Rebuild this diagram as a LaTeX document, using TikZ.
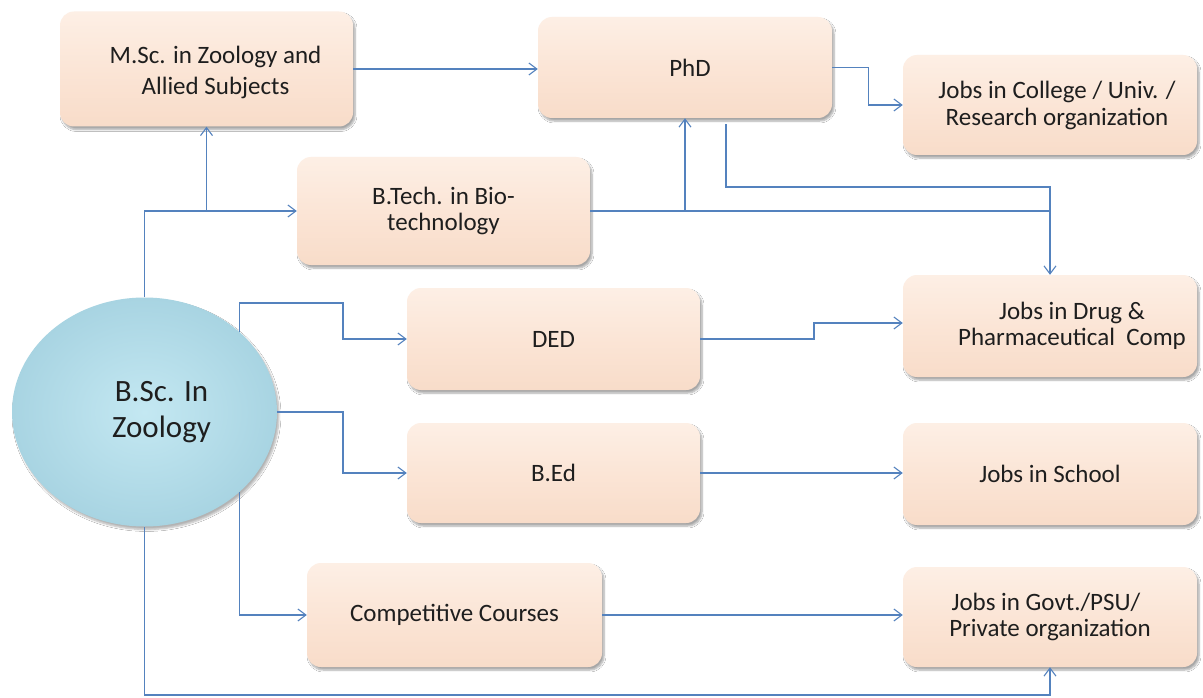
\documentclass[tikz,border=0pt]{standalone}
\usepackage{fontspec}
\setmainfont{Carlito}
\usetikzlibrary{arrows.meta,shapes.geometric,shadows.blur}
\definecolor{boxfill}{RGB}{251,229,214}
\definecolor{boxtop}{RGB}{253,239,229}
\definecolor{boxbot}{RGB}{248,220,201}
\definecolor{linecol}{RGB}{84,130,190}
\definecolor{ballin}{RGB}{196,232,242}
\definecolor{ballout}{RGB}{168,212,226}
\definecolor{txt}{RGB}{30,30,30}
\tikzset{
  boxnode/.style={rectangle, rounded corners=14pt, inner sep=0pt,
    top color=boxtop, bottom color=boxbot, middle color=boxfill,
    blur shadow={shadow xshift=2pt, shadow yshift=-3pt, shadow blur steps=6, shadow opacity=35},
    text=txt, align=center, font=\fontsize{25}{30}\selectfont},
  conn/.style={draw=linecol, line width=1.1pt},
  arr/.style={conn, -{Straight Barb[length=8pt,width=12pt,line width=1.1pt]}}
}
\begin{document}
\begin{tikzpicture}[x=1pt,y=-1pt]
\useasboundingbox[fill=white] (0,0) rectangle (1203,698);

% nodes
\node[boxnode, minimum width=293pt, minimum height=115pt,
  font=\fontsize{25}{31}\selectfont] (msc) at (206.5,69)
  {\hspace*{18pt}\rule{0pt}{24pt}M.Sc. in Zoology and\\\hspace*{18pt}Allied Subjects};
\node[boxnode, minimum width=294pt, minimum height=101pt] (phd) at (685,67.5)
  {\hspace*{10pt}PhD};
\node[boxnode, minimum width=294pt, minimum height=100pt,
  font=\fontsize{25}{27}\selectfont] (col) at (1050,105)
  {\hspace*{14pt}Jobs in College / Univ. /\\\hspace*{14pt}Research organization};
\node[boxnode, minimum width=293pt, minimum height=108pt,
  font=\fontsize{25}{26}\selectfont] (btech) at (443.5,211)
  {B.Tech. in Bio-\\technology};
\node[boxnode, minimum width=293pt, minimum height=102pt] (ded) at (553.5,339)
  {DED};
\node[boxnode, minimum width=294pt, minimum height=102pt,
  font=\fontsize{25}{26}\selectfont] (drug) at (1050,326)
  {\hspace*{44pt}Jobs in Drug \&\\\hspace*{44pt}Pharmaceutical\ \ Comp};
\node[boxnode, minimum width=293pt, minimum height=100pt] (bed) at (553.5,473)
  {B.Ed};
\node[boxnode, minimum width=294pt, minimum height=102pt] (school) at (1050,474)
  {Jobs in School};
\node[boxnode, minimum width=295pt, minimum height=104pt] (comp) at (454.5,615)
  {Competitive Courses};
\node[boxnode, minimum width=294pt, minimum height=100pt,
  font=\fontsize{25}{26}\selectfont] (govt) at (1050,617)
  {\hspace*{-8pt}Jobs in Govt./PSU/\\Private organization};
\node[ellipse, inner sep=0pt, minimum width=265pt, minimum height=229pt,
  inner color=ballin, outer color=ballout,
  blur shadow={shadow xshift=2pt, shadow yshift=-3pt, shadow blur steps=6, shadow opacity=30},
  text=txt, align=center, font=\fontsize{31}{36}\selectfont] (bsc) at (144.5,412)
  {\hspace*{34pt}B.Sc. In\\\hspace*{34pt}Zoology};

% helper coordinates
\coordinate (bot) at (0,695);
\coordinate (mid) at (0,187);

% connectors
\draw[arr] (bsc.north) |- (btech.west);
\draw[arr] (msc.south |- btech.west) -- (msc.south);
\draw[arr] (msc.east) -- (msc.east -| phd.west);
\draw[arr] (phd.east) -- ++(36,0) |- (col.west);
\draw[arr] (btech.east) -| (drug.north);
\draw[arr] (phd.south |- btech.east) -- (phd.south);
\draw[conn] ([xshift=41pt,yshift=-6pt]phd.south) |- (drug.north |- mid) -- (drug.north |- btech.east);
\draw[arr] (bsc.40) |- (343,303) |- (ded.west);
\draw[arr] (bsc.east) -| (343,473) -- (bed.west);
\draw[arr] (bsc.-40) |- (comp.west);
\draw[arr] (bsc.south) -- (bsc.south |- bot) -| (govt.south);
\draw[arr] (ded.east) -| (814,323) -- (drug.west |- 814,323);
\draw[arr] (bed.east) -- (bed.east -| school.west);
\draw[arr] (comp.east) -- (comp.east -| govt.west);
\end{tikzpicture}
\end{document}
